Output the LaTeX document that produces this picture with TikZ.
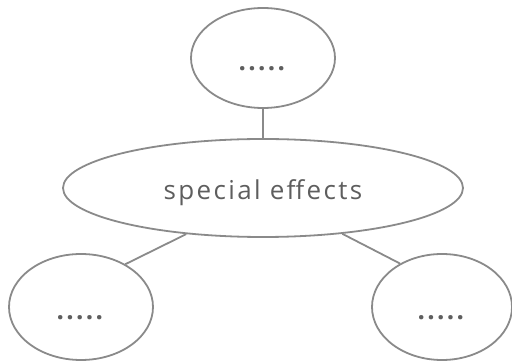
\documentclass[tikz,border=0pt]{standalone}
\usepackage{fontspec}
\setmainfont{Open Sans}
\usetikzlibrary{shapes.geometric}
\definecolor{edgegray}{HTML}{8A8A8A}
\definecolor{textgray}{HTML}{5E5E5E}
\newcommand{\dotrow}{\raisebox{-13pt}[0pt][0pt]{\addfontfeature{LetterSpace=9}\textbf{.....}}}
\newcommand{\spacedtext}[1]{\raisebox{-12pt}[0pt][0pt]{\addfontfeature{LetterSpace=9}#1}}
\begin{document}
\begin{tikzpicture}[x=1pt,y=-1pt,
  bubble/.style={ellipse,draw=edgegray,line width=1.8pt,inner sep=0pt,text=textgray,font=\fontsize{26}{30}\selectfont},
  link/.style={draw=edgegray,line width=1.8pt}]
\useasboundingbox (0,0) rectangle (512,363);
\node[bubble,minimum width=144pt,minimum height=100pt] (top) at (263,58) {\dotrow};
\node[bubble,minimum width=400pt,minimum height=98pt] (mid) at (263,188) {\spacedtext{special effects}};
\node[bubble,minimum width=144pt,minimum height=106pt] (left) at (81,307) {\dotrow};
\node[bubble,minimum width=140pt,minimum height=106pt] (right) at (442,307) {\dotrow};
\draw[link] (top) -- (mid);
\draw[link] (mid.211) -- (left.44);
\draw[link] (mid.330) -- (right.134);
\end{tikzpicture}
\end{document}
